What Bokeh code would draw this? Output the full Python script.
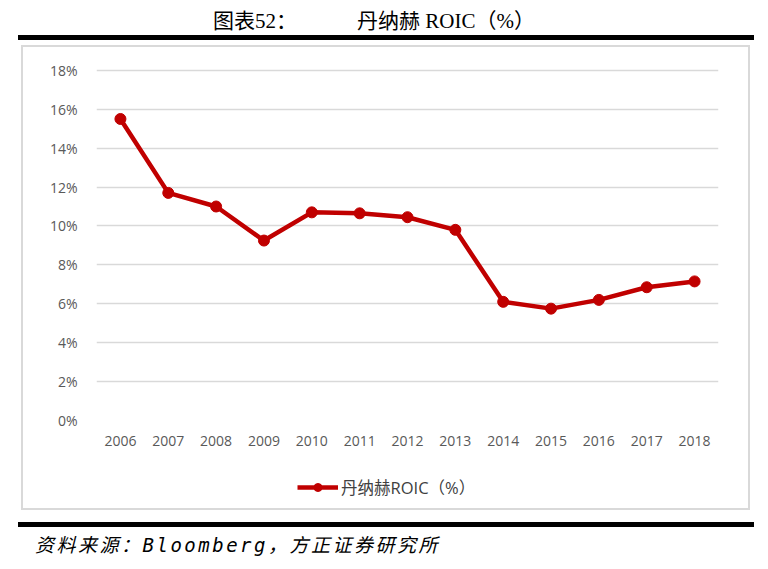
from bokeh.embed import file_html
from bokeh.layouts import column
from bokeh.models import Div, FixedTicker, Legend, LegendItem, PrintfTickFormatter, Range1d
from bokeh.plotting import figure
from bokeh.resources import INLINE

# ROIC of Danaher, in %
years = ["2006", "2007", "2008", "2009", "2010", "2011", "2012",
         "2013", "2014", "2015", "2016", "2017", "2018"]
roic = [15.5, 11.7, 11.0, 9.25, 10.7, 10.65, 10.45,
        9.8, 6.1, 5.75, 6.2, 6.85, 7.15]
y_ticks = [0, 2, 4, 6, 8, 10, 12, 14, 16, 18]

title_left = "图表52："
title_right = "丹纳赫 ROIC（%）"
series_name = "丹纳赫ROIC（%）"
source_note = "资料来源：Bloomberg，方正证券研究所"

RED = "#C00000"
GRID = "#D9D9D9"
SANS = "Open Sans, Noto Sans CJK SC"
SERIF = "'Liberation Serif', 'Noto Sans CJK SC'"
NOTE = "'DejaVu Sans Mono', 'Noto Sans CJK SC'"
W = 760

rule = "position:absolute;left:18px;width:736px;height:5px;background:black;top:%dpx"

head = Div(width=W, height=43, margin=0, text=(
    '<div style="position:relative;width:%dpx;height:43px">'
    '<span style="position:absolute;left:213px;top:4px;font:21px %s;color:black">%s</span>'
    '<span style="position:absolute;left:357px;top:4px;font:21px %s;color:black">%s</span>'
    '<div style="%s"></div></div>'
) % (W, SERIF, title_left, SERIF, title_right, rule % 35))

# main chart
p = figure(x_range=years, y_range=Range1d(0, 18.3), width=729, height=410,
           output_backend="svg", toolbar_location=None,
           min_border_left=75, min_border_right=32, min_border_top=19, min_border_bottom=35)
p.outline_line_color = None
p.border_fill_color = None
p.background_fill_color = None
p.xgrid.grid_line_color = None
p.ygrid.grid_line_color = GRID
p.ygrid.grid_line_width = 1.3

p.yaxis.ticker = FixedTicker(ticks=y_ticks)
p.yaxis.formatter = PrintfTickFormatter(format="%d%%")
for ax in (p.xaxis, p.yaxis):
    ax.axis_line_color = None
    ax.major_tick_line_color = None
    ax.minor_tick_line_color = None
    ax.major_label_text_font = SANS
    ax.major_label_text_font_size = "14px"
    ax.major_label_text_color = "#595959"
p.xaxis.major_label_standoff = 9
p.yaxis.major_label_standoff = 13

p.line(years, roic, line_color=RED, line_width=4.5)
p.scatter(years, roic, size=11, fill_color=RED, line_color=RED)

# legend row under the chart, same frame borders as the chart;
# the series is drawn here out of view only to feed the legend key
leg = figure(width=729, height=55, output_backend="svg", toolbar_location=None,
             min_border_left=75, min_border_right=32, min_border_top=0, min_border_bottom=0,
             x_range=years, y_range=Range1d(100, 101))
leg.axis.visible = False
leg.grid.visible = False
leg.outline_line_color = None
leg.border_fill_color = None
leg.background_fill_color = None
key_line = leg.line(years, roic, line_color=RED, line_width=4.5)
key_dot = leg.scatter(years, roic, size=10, fill_color=RED, line_color=RED)
leg.add_layout(Legend(items=[LegendItem(label=series_name, renderers=[key_line, key_dot])],
                      location=(201, 11), orientation="horizontal",
                      glyph_width=41, label_text_font=SANS,
                      label_text_font_size="16.5px", label_text_color="#404040",
                      border_line_color=None, background_fill_alpha=0,
                      padding=6, label_standoff=3, margin=0))

box = column(p, leg, spacing=0, margin=(2, 0, 0, 21),
             styles={"outline": "2px solid #D9D9D9", "outline-offset": "-2px"})

foot = Div(width=W, height=47, margin=0, text=(
    '<div style="position:relative;width:%dpx;height:47px">'
    '<div style="%s"></div>'
    '<span style="position:absolute;left:35px;top:20px;font:italic 19px %s;'
    'letter-spacing:2.5px;color:black">%s</span>'
    '</div>'
) % (W, rule % 12, NOTE, source_note))

layout = column(head, box, foot, spacing=0)
open("out.html", "w").write(file_html(layout, INLINE))
